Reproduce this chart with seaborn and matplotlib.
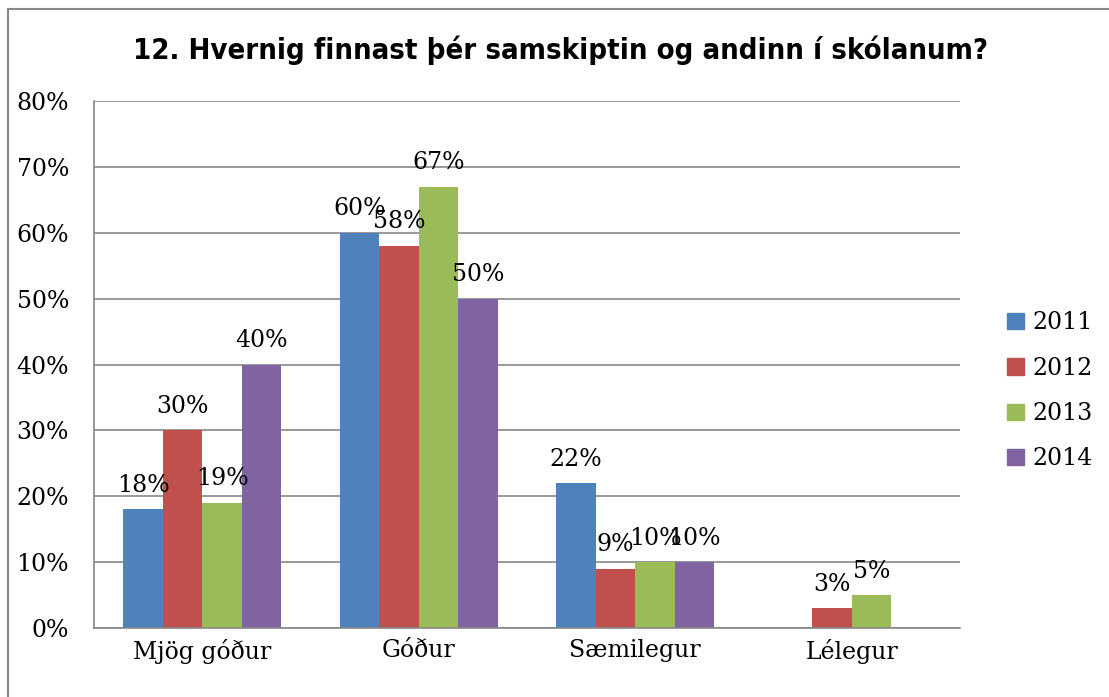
import numpy as np
import pandas as pd
import matplotlib
matplotlib.use("Agg")
import matplotlib.pyplot as plt
import seaborn as sns
from matplotlib.lines import Line2D

# --- data ---
categories = ["Mjög góður", "Góður", "Sæmilegur", "Lélegur"]
years = ["2011", "2012", "2013", "2014"]
v2011 = [18, 60, 22, np.nan]
v2012 = [30, 58, 9, 3]
v2013 = [19, 67, 10, 5]
v2014 = [40, 50, 10, np.nan]
colors = ["#4F81BD", "#C0504D", "#9BBB59", "#8064A2"]
title = "12. Hvernig finnast þér samskiptin og andinn í skólanum?"

rows = []
for year, vals in zip(years, [v2011, v2012, v2013, v2014]):
    for cat, v in zip(categories, vals):
        rows.append({"flokkur": cat, "ár": year, "hlutfall": v})
df = pd.DataFrame(rows)

sns.set_theme(style="white")
plt.rcParams["font.family"] = ["DejaVu Serif"]
plt.rcParams["text.color"] = "black"
plt.rcParams["xtick.color"] = "black"
plt.rcParams["ytick.color"] = "black"

fig = plt.figure(figsize=(11.09, 6.97), dpi=100)
ax = fig.add_axes([94 / 1109, 1 - 628 / 697, (960 - 94) / 1109, (628 - 101) / 697])

sns.barplot(data=df, x="flokkur", y="hlutfall", hue="ár", palette=colors,
            width=0.73, gap=0, saturation=1, linewidth=0, ax=ax, legend=True)

# prósentumerki ofan á hverja súlu (engin merki þar sem gildi vantar)
for cont, year in zip(ax.containers, years):
    labels = ["" if np.isnan(b.get_height()) or b.get_height() == 0 else f"{b.get_height():.0f}%"
              for b in cont]
    ax.bar_label(cont, labels=labels, padding=9, fontsize=17, color="black")

ax.set_ylim(0, 80)
ax.set_yticks(range(0, 81, 10))
ax.set_yticklabels([f"{t}%" for t in range(0, 81, 10)], fontsize=17)
ax.tick_params(axis="y", length=0, pad=18)
ax.tick_params(axis="x", length=0, pad=8, labelsize=17)
ax.set_xlim(-0.5, 3.5)
ax.set_xlabel("")
ax.set_ylabel("")
ax.yaxis.grid(True, color="#878787", linewidth=1.2)
ax.set_axisbelow(True)
for side in ["top", "right"]:
    ax.spines[side].set_visible(False)
for side in ["left", "bottom"]:
    ax.spines[side].set_color("#878787")
    ax.spines[side].set_linewidth(1.2)

handles = [plt.Rectangle((0, 0), 1, 1, color=c) for c in colors]
ax.legend(handles, years, loc="center left", bbox_to_anchor=(1.03, 0.45),
          frameon=False, fontsize=17, handlelength=0.7, handleheight=0.7,
          handletextpad=0.35, labelspacing=0.95)

fig.text(561 / 1109, 1 - 50 / 697, title, ha="center", va="center",
         fontsize=21, fontweight="bold", fontstretch="condensed",
         family=["DejaVu Sans"], color="black")

# ytri rammi (efri og vinstri brún sjást á fyrirmyndinni)
fig.add_artist(Line2D([8 / 1109, 8 / 1109], [0, 1 - 9 / 697], transform=fig.transFigure,
                      color="#878787", linewidth=1.5))
fig.add_artist(Line2D([8 / 1109, 1], [1 - 9 / 697, 1 - 9 / 697], transform=fig.transFigure,
                      color="#878787", linewidth=1.5))

fig.savefig("out.png", dpi=100, facecolor="white")
